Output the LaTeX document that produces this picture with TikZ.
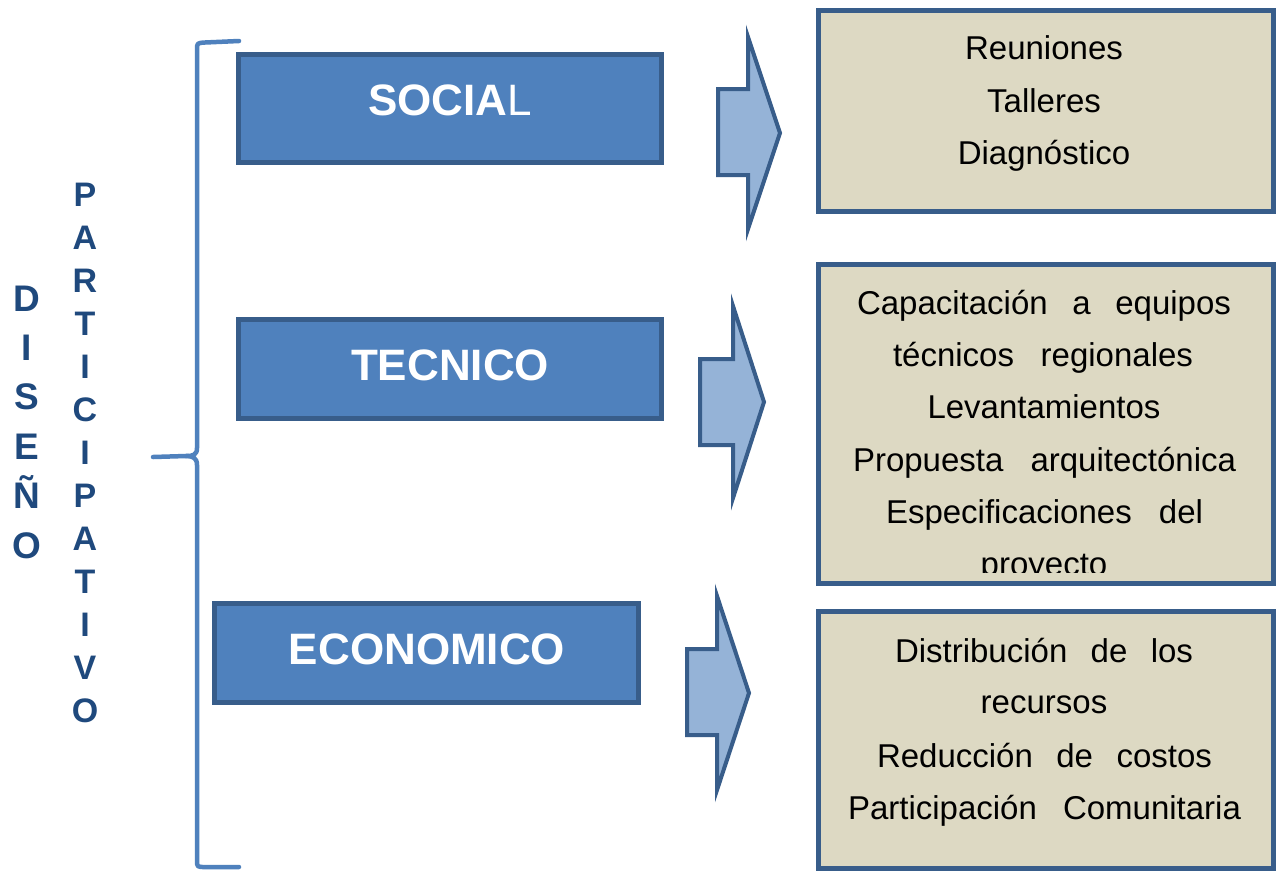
\documentclass[tikz,border=0pt]{standalone}
\usepackage{fontspec}
\setmainfont{Liberation Sans}
\definecolor{hdrfill}{RGB}{79,129,189}
\definecolor{hdrline}{RGB}{56,93,138}
\definecolor{tanfill}{RGB}{221,217,195}
\definecolor{arrfill}{RGB}{149,179,215}
\definecolor{vtext}{RGB}{31,73,125}
\tikzset{
  hdrbox/.style={draw=hdrline, fill=hdrfill, line width=5pt},
  tanbox/.style={draw=hdrline, fill=tanfill, line width=5pt},
  bigarrow/.style={draw=hdrline, fill=arrfill, line width=4pt, line join=miter},
  hdrtext/.style={text=white, font=\fontsize{44}{50}\selectfont\bfseries, inner sep=0pt, anchor=base},
  bodytext/.style={text=black, font=\fontsize{33}{40}\selectfont, inner sep=0pt, anchor=base},
  vlabel/.style={text=vtext, align=center, inner sep=0pt},
  bracestyle/.style={draw=hdrfill, line width=4.5pt, line cap=round, line join=round}
}
\begin{document}
\begin{tikzpicture}[x=1pt,y=-1pt]
\useasboundingbox (0,0) rectangle (1280,871);
\fill[white] (0,0) rectangle (1280,871);

% vertical labels
\node[vlabel, font=\fontsize{37}{49.4}\selectfont\bfseries] (diseno) at (27,422) {D\\I\\S\\E\\Ñ\\O};
\node[vlabel, font=\fontsize{34}{43}\selectfont\bfseries] (particip) at (85,453) {P\\A\\R\\T\\I\\C\\I\\P\\A\\T\\I\\V\\O};

% brace
\coordinate (bt) at (239,41);
\coordinate (bm) at (153,457);
\coordinate (bb) at (239,867);
\draw[bracestyle] (bt) -- (205,42.5) .. controls (197,43) .. (197,50) -- (197,448)
   .. controls (197,455) and (193,456) .. (186,456) -- (bm);
\draw[bracestyle] (186,456) .. controls (193,456) and (197,458) .. (197,465) -- (197,860)
   .. controls (197,867) .. (205,867) -- (bb);

% header boxes
\draw[hdrbox] (238.5,54.5) rectangle (661.5,162.5);
\node[hdrtext] (social) at (450,115) {SOCIA\mdseries L};
\draw[hdrbox] (238.5,319.5) rectangle (661.5,418.5);
\node[hdrtext] (tecnico) at (450,380) {TECNICO};
\draw[hdrbox] (214.5,603.5) rectangle (638.5,702.5);
\node[hdrtext] (economico) at (427,664) {ECONOMICO};

% arrows
\draw[bigarrow] (718,89) -- (748,89) -- (748,37) -- (780,133) -- (748,229) -- (748,175) -- (718,175) -- cycle;
\draw[bigarrow] (700,359) -- (733,359) -- (733,306) -- (764,402) -- (733,498) -- (733,445) -- (700,445) -- cycle;
\draw[bigarrow] (687,649) -- (717,649) -- (717,596) -- (749,693) -- (717,790) -- (717,735) -- (687,735) -- cycle;

% tan boxes
\draw[tanbox] (818,10) rectangle (1273,211);
\node[bodytext] (r1) at (1044,59) {Reuniones};
\node[bodytext] (r2) at (1044,112) {Talleres};
\node[bodytext] (r3) at (1044,164) {Diagnóstico};

\draw[tanbox] (818,264.5) rectangle (1273,583.5);
\node[bodytext] (t1) at (1044,314) {\makebox[374pt][s]{Capacitación\hfill a\hfill equipos}};
\node[bodytext] (t2) at (1043,366) {\makebox[300pt][s]{técnicos\hfill regionales}};
\node[bodytext] (t3) at (1044,418.5) {Levantamientos};
\node[bodytext] (t4) at (1044.5,471) {\makebox[383pt][s]{Propuesta\hfill arquitectónica}};
\node[bodytext] (t5) at (1044.5,523) {\makebox[317pt][s]{Especificaciones\hfill del}};
\begin{scope}
\clip (820,540) rectangle (1270,572);
\node[bodytext] (t6) at (1044,575) {proyecto};
\end{scope}

\draw[tanbox] (818,611.5) rectangle (1273,868);
\node[bodytext] (e1) at (1044,662) {\makebox[298pt][s]{Distribución\hfill de\hfill los}};
\node[bodytext] (e2) at (1044,713) {recursos};
\node[bodytext] (e3) at (1044.5,767) {\makebox[335pt][s]{Reducción\hfill de\hfill costos}};
\node[bodytext] (e4) at (1044.5,819) {\makebox[393pt][s]{Participación\hfill Comunitaria}};
\end{tikzpicture}
\end{document}
